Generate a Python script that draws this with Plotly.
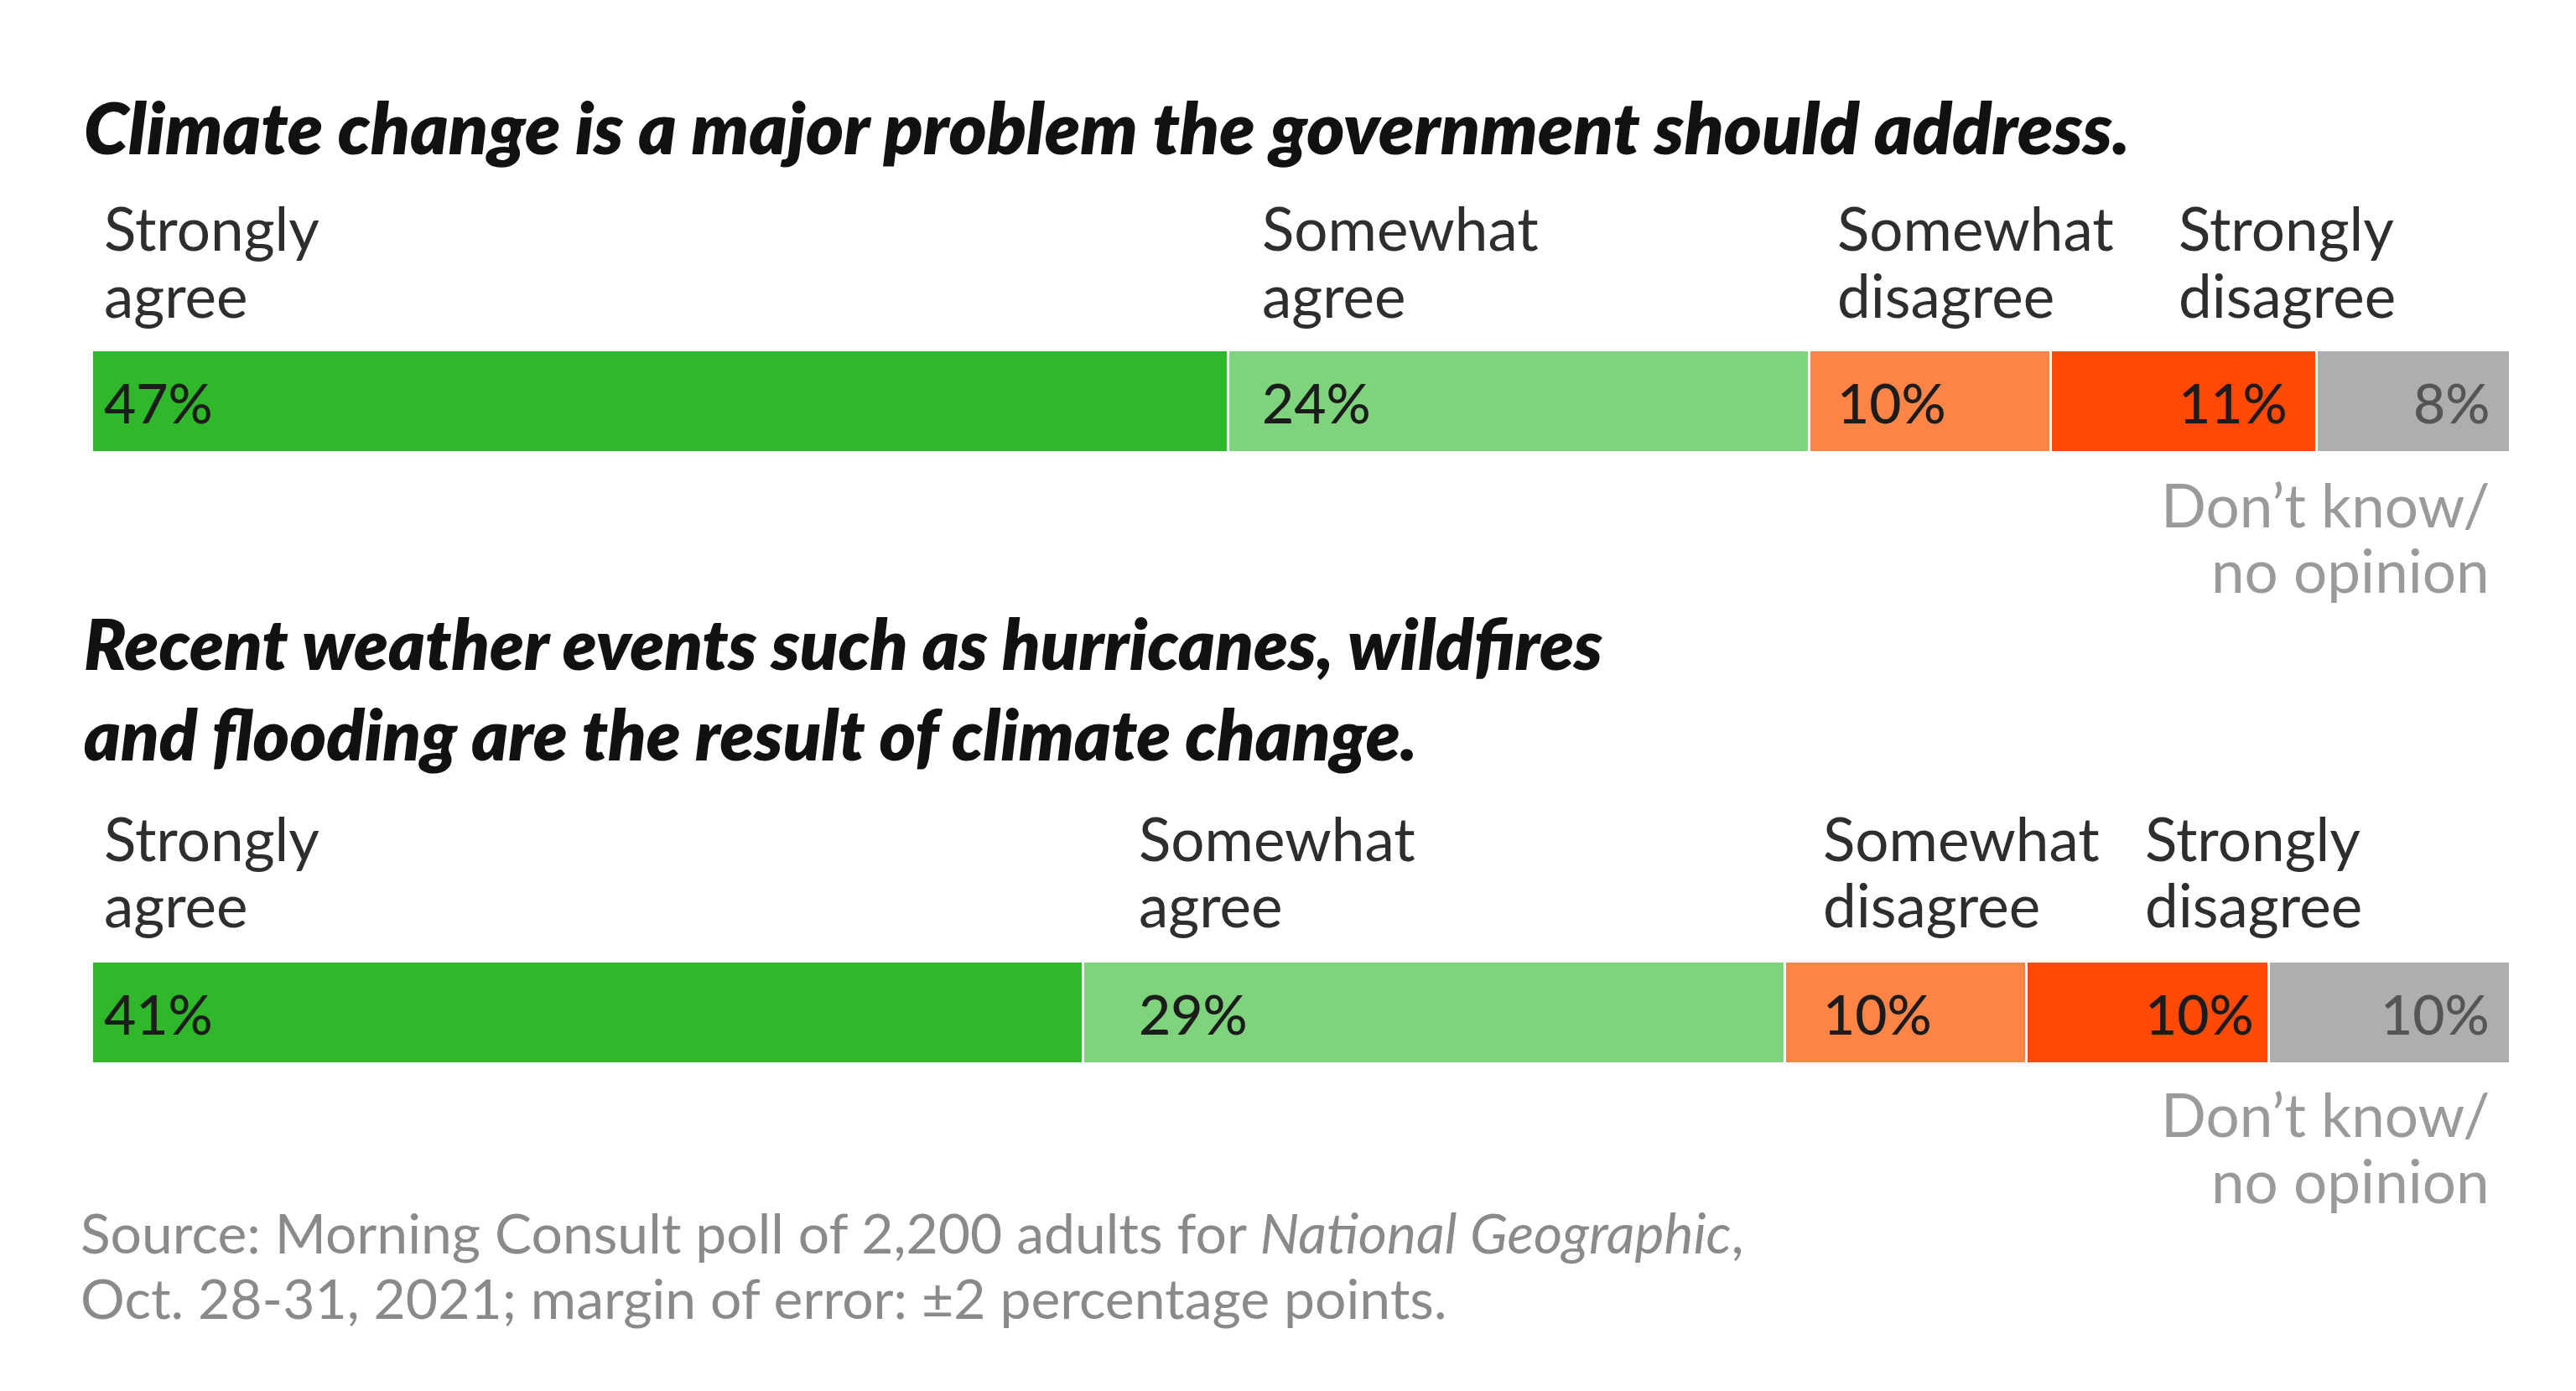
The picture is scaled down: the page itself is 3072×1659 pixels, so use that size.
import plotly.graph_objects as go

# ---------------- data ----------------
questions = [
    "Climate change is a major problem the government should address.",
    "Recent weather events such as hurricanes, wildfires<br>and flooding are the result of climate change.",
]
question_names = [q.replace("<br>", " ") for q in questions]
categories = ["Strongly agree", "Somewhat agree", "Somewhat disagree",
              "Strongly disagree", "Don’t know/ no opinion"]
cat_label_lines = [["Strongly", "agree"], ["Somewhat", "agree"], ["Somewhat", "disagree"],
                   ["Strongly", "disagree"], ["Don’t know/", "no opinion"]]
q1_values = [47, 24, 10, 11, 8]
q2_values = [41, 29, 10, 10, 10]
source_lines = ["Source: Morning Consult poll of 2,200 adults for <i>National Geographic</i>,",
                "Oct. 28-31, 2021; margin of error: ±2 percentage points."]

# ---------------- style ----------------
colors = ["#2eb82a", "#7fd37c", "#fd8447", "#fe4a04", "#adaeb0"]
pct_colors = ["#1c1c1c", "#1c1c1c", "#1c1c1c", "#1c1c1c", "#555555"]
FONT = "Lato"
W, H = 3072, 1659

def py(px):  # pixel from top -> paper y
    return 1 - px / H

x_domain = [102 / W, 2986 / W]
bar_domains = [[py(532), py(410)], [py(1261), py(1139)]]
label_offsets = [[0.4, 1.3, 1.1, 5.2], [0.4, 2.2, 1.5, 4.8]]
label_line_centers = [[264, 343], [991, 1070]]
bar_centers = [471, 1200]
dk_line_centers = [[593, 672], [1320, 1399]]
title_centers = [142, 813]
title_sizes = [86, 83]
source_line_centers = [1461, 1539]

LABEL_SIZE = 71
PCT_SIZE = 66
SOURCE_SIZE = 66

fig = go.Figure()
all_values = [q1_values, q2_values]
annotations = []

def add_text(x, xref, ypx, text, xanchor, size, color, **fkw):
    annotations.append(dict(
        x=x, xref=xref, y=py(ypx), yref="paper",
        xanchor=xanchor, yanchor="middle", align=xanchor, showarrow=False,
        text=text, font=dict(family=FONT, size=size, color=color, **fkw),
    ))

for qi, vals in enumerate(all_values):
    xa = "x" if qi == 0 else "x2"
    ya = "y" if qi == 0 else "y2"
    for ci, (cat, v) in enumerate(zip(categories, vals)):
        fig.add_trace(go.Bar(
            x=[v], y=[question_names[qi]], orientation="h",
            name=cat, marker=dict(color=colors[ci], line=dict(color="white", width=3)),
            width=1.0, xaxis=xa, yaxis=ya, showlegend=False, hoverinfo="x+name",
        ))
    starts, s = [], 0
    for v in vals:
        starts.append(s)
        s += v
    total = s
    for ci in range(4):
        xpos = starts[ci] + label_offsets[qi][ci]
        for line, yc in zip(cat_label_lines[ci], label_line_centers[qi]):
            add_text(xpos, xa, yc, line, "left", LABEL_SIZE, "#2e2e2e")
        add_text(xpos, xa, bar_centers[qi], f"{vals[ci]}%", "left", PCT_SIZE,
                 pct_colors[ci], weight=500)
    right_x = total - 0.8
    add_text(right_x, xa, bar_centers[qi], f"{vals[4]}%", "right", PCT_SIZE,
             pct_colors[4], weight=500)
    for line, yc in zip(cat_label_lines[4], dk_line_centers[qi]):
        add_text(right_x, xa, yc, line, "right", LABEL_SIZE, "#9a9a9a")
    add_text(90 / W, "paper", title_centers[qi], questions[qi], "left", title_sizes[qi],
             "#111111", weight=800, style="italic")

for line, yc in zip(source_lines, source_line_centers):
    add_text(86 / W, "paper", yc, line, "left", SOURCE_SIZE, "#8a8a8a")

axis_common = dict(showgrid=False, zeroline=False, showticklabels=False, showline=False, ticks="")
fig.update_layout(
    width=W, height=H,
    margin=dict(l=0, r=0, t=0, b=0),
    paper_bgcolor="white", plot_bgcolor="white",
    barmode="stack", bargap=0,
    xaxis=dict(domain=x_domain, range=[0, 100], anchor="y", **axis_common),
    yaxis=dict(domain=bar_domains[0], range=[-0.5, 0.5], anchor="x", **axis_common),
    xaxis2=dict(domain=x_domain, range=[0, 100], anchor="y2", **axis_common),
    yaxis2=dict(domain=bar_domains[1], range=[-0.5, 0.5], anchor="x2", **axis_common),
    annotations=annotations,
    font=dict(family=FONT),
)

fig.write_html("out.html")
